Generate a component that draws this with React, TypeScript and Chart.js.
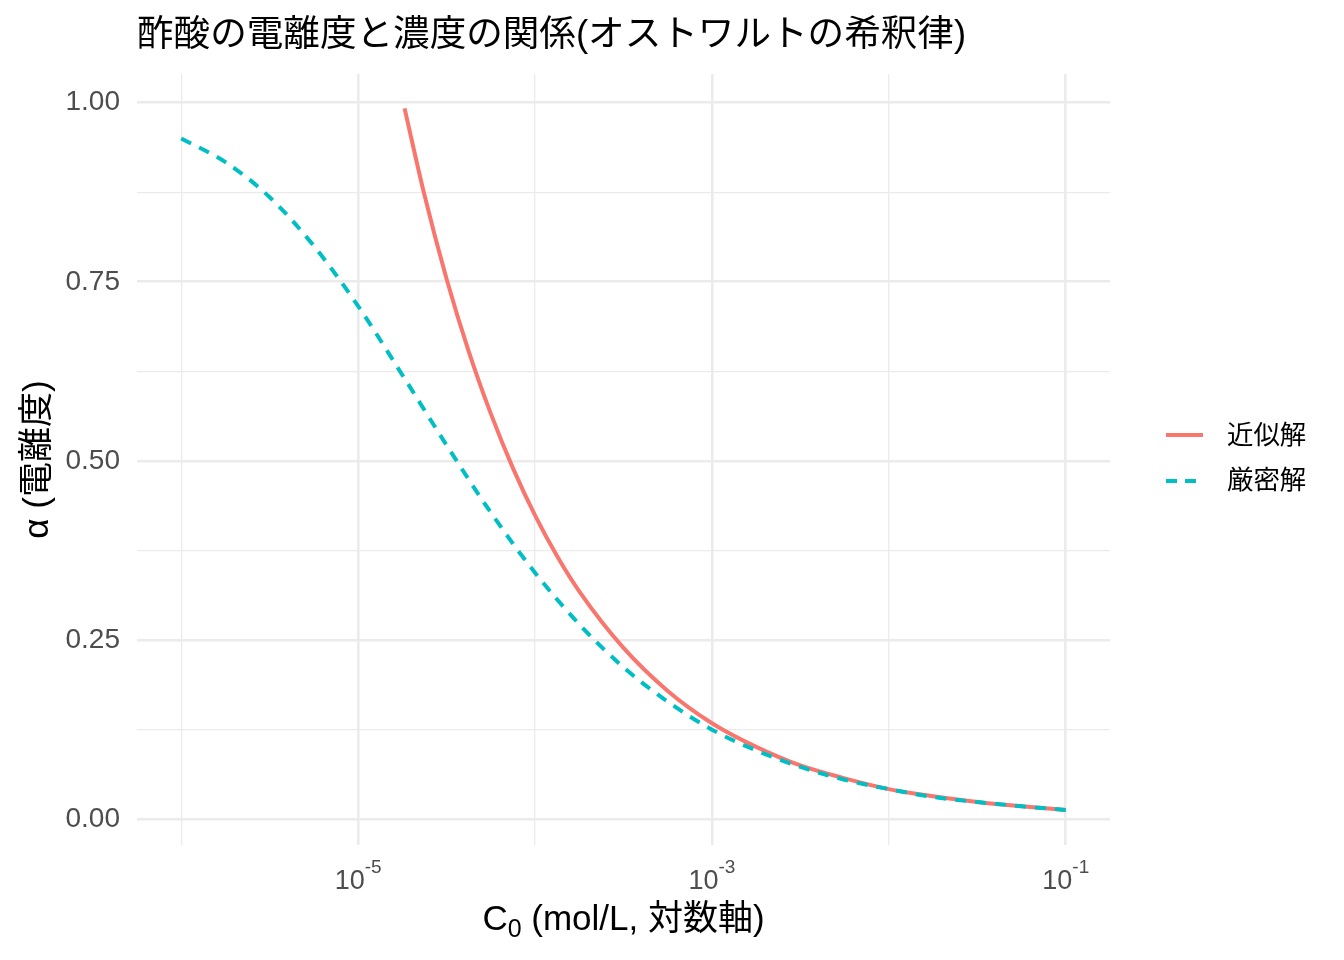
import { useEffect, useRef } from "react";
import { Chart, registerables } from "chart.js";

Chart.register(...registerables);

// 濃度 C0 (mol/L) と電離度 α
const exactConc = [
  1e-6, 1.778e-6, 3.162e-6, 5.623e-6, 1e-5, 1.778e-5, 3.162e-5, 5.623e-5, 1e-4,
  1.778e-4, 3.162e-4, 5.623e-4, 1e-3, 1.778e-3, 3.162e-3, 5.623e-3, 1e-2,
  1.778e-2, 3.162e-2, 5.623e-2, 1e-1,
];
const exactAlpha = [
  0.95, 0.917, 0.868, 0.8, 0.716, 0.62, 0.522, 0.428, 0.344, 0.272, 0.212, 0.164,
  0.125, 0.096, 0.073, 0.055, 0.042, 0.031, 0.024, 0.018, 0.013,
];

const approxConc = [
  1.83e-5, 2.371e-5, 3.162e-5, 4.217e-5, 5.623e-5, 7.499e-5, 1e-4, 1.334e-4,
  1.778e-4, 3.162e-4, 5.623e-4, 1e-3, 1.778e-3, 3.162e-3, 5.623e-3, 1e-2,
  1.778e-2, 3.162e-2, 5.623e-2, 1e-1,
];
const approxAlpha = [
  0.992, 0.871, 0.754, 0.653, 0.566, 0.49, 0.424, 0.367, 0.318, 0.239, 0.179,
  0.134, 0.101, 0.075, 0.057, 0.042, 0.032, 0.024, 0.018, 0.013,
];

const xTicks = [1e-6, 1e-5, 1e-4, 1e-3, 1e-2, 1e-1];
const xLabelExps = [-5, -3, -1];
const yTicks = [0, 0.125, 0.25, 0.375, 0.5, 0.625, 0.75, 0.875, 1];

const seriesNames = ["近似解", "厳密解"];
const RED = "#F8766D";
const CYAN = "#00BFC4";
const FONT = '"Liberation Sans", "Noto Sans CJK JP", sans-serif';

const isMajorY = (v: number) => Math.abs(v * 4 - Math.round(v * 4)) < 1e-9;

const decorations = {
  id: "decorations",
  afterDraw(chart: any) {
    const ctx = chart.ctx as CanvasRenderingContext2D;
    const area = chart.chartArea;
    const xs = chart.scales.x;
    ctx.save();

    // title
    ctx.fillStyle = "#000";
    ctx.textAlign = "left";
    ctx.textBaseline = "middle";
    ctx.font = `36.6px ${FONT}`;
    ctx.fillText("酢酸の電離度と濃度の関係(オストワルトの希釈律)", area.left, 36);

    // x tick labels 10^n
    ctx.fillStyle = "#4D4D4D";
    ctx.textBaseline = "alphabetic";
    xLabelExps.forEach((e) => {
      const px = xs.getPixelForValue(Math.pow(10, e));
      ctx.font = `27px ${FONT}`;
      const w1 = ctx.measureText("10").width;
      ctx.font = `19px ${FONT}`;
      const sup = String(e);
      const w2 = ctx.measureText(sup).width;
      const start = px - (w1 + w2) / 2;
      ctx.font = `27px ${FONT}`;
      ctx.fillText("10", start, 889);
      ctx.font = `19px ${FONT}`;
      ctx.fillText(sup, start + w1, 873);
    });

    // x axis title
    ctx.fillStyle = "#000";
    const big = `35px ${FONT}`;
    const small = `25px ${FONT}`;
    ctx.font = big;
    const wC = ctx.measureText("C").width;
    const rest = " (mol/L, 対数軸)";
    const wRest = ctx.measureText(rest).width;
    ctx.font = small;
    const wSub = ctx.measureText("0").width;
    const cx = (area.left + area.right) / 2;
    const sx = cx - (wC + wSub + wRest) / 2;
    ctx.font = big;
    ctx.fillText("C", sx, 930);
    ctx.font = small;
    ctx.fillText("0", sx + wC, 937);
    ctx.font = big;
    ctx.fillText(rest, sx + wC + wSub, 930);

    // y axis title
    ctx.save();
    ctx.translate(38, (area.top + area.bottom) / 2);
    ctx.rotate(-Math.PI / 2);
    ctx.textAlign = "center";
    ctx.textBaseline = "middle";
    ctx.font = `35px ${FONT}`;
    ctx.fillText("α (電離度)", 0, 0);
    ctx.restore();

    // legend
    ctx.lineWidth = 4;
    ctx.strokeStyle = RED;
    ctx.setLineDash([]);
    ctx.beginPath();
    ctx.moveTo(1166, 435);
    ctx.lineTo(1203, 435);
    ctx.stroke();
    ctx.strokeStyle = CYAN;
    ctx.setLineDash([11, 8]);
    ctx.beginPath();
    ctx.moveTo(1166, 481);
    ctx.lineTo(1204, 481);
    ctx.stroke();
    ctx.setLineDash([]);
    ctx.fillStyle = "#000";
    ctx.textAlign = "left";
    ctx.textBaseline = "middle";
    ctx.font = `26.4px ${FONT}`;
    ctx.fillText(seriesNames[0], 1227, 437);
    ctx.fillText(seriesNames[1], 1227, 482);

    ctx.restore();
  },
};

const App = () => {
  const canvasRef = useRef<HTMLCanvasElement | null>(null);
  const chart = useRef<Chart>();

  useEffect(() => {
    document.body.style.margin = "0";
    if (!canvasRef.current) return;
    const ctx = canvasRef.current.getContext("2d");
    if (!ctx) return;

    chart.current = new Chart(ctx, {
      type: "line",
      data: {
        datasets: [
          {
            label: seriesNames[1],
            data: exactConc.map((c, i) => ({ x: c, y: exactAlpha[i] })),
            borderColor: CYAN,
            borderWidth: 4,
            borderDash: [11, 9],
            pointRadius: 0,
            cubicInterpolationMode: "monotone",
            fill: false,
          },
          {
            label: seriesNames[0],
            data: approxConc.map((c, i) => ({ x: c, y: approxAlpha[i] })),
            borderColor: RED,
            borderWidth: 4,
            pointRadius: 0,
            cubicInterpolationMode: "monotone",
            fill: false,
          },
        ],
      },
      options: {
        responsive: false,
        animation: false,
        layout: { padding: { top: 74, right: 234, left: 0, bottom: 0 } },
        plugins: {
          legend: { display: false },
          title: { display: false },
          tooltip: { enabled: false },
        },
        scales: {
          x: {
            type: "logarithmic",
            min: Math.pow(10, -6.25),
            max: Math.pow(10, -0.75),
            afterBuildTicks: (scale: any) => {
              scale.ticks = xTicks.map((v) => ({ value: v }));
            },
            afterFit: (scale: any) => {
              scale.height = 115;
            },
            ticks: { display: false },
            border: { display: false },
            grid: {
              drawTicks: false,
              color: "#EBEBEB",
              lineWidth: (c: any) => (c.index % 2 === 1 ? 2.6 : 1.3),
            },
          },
          y: {
            type: "linear",
            min: -0.036,
            max: 1.04,
            afterBuildTicks: (scale: any) => {
              scale.ticks = yTicks.map((v) => ({ value: v }));
            },
            afterFit: (scale: any) => {
              scale.width = 137;
            },
            ticks: {
              autoSkip: false,
              padding: 17,
              color: "#4D4D4D",
              font: { family: FONT, size: 28 },
              callback: (v: any) => (isMajorY(Number(v)) ? Number(v).toFixed(2) : ""),
            },
            border: { display: false },
            grid: {
              drawTicks: false,
              color: "#EBEBEB",
              lineWidth: (c: any) =>
                c.tick && isMajorY(c.tick.value) ? 2.6 : 1.3,
            },
          },
        },
      },
      plugins: [decorations],
    });

    return () => {
      chart.current && chart.current.destroy();
      chart.current = undefined;
    };
  }, []);

  return (
    <div style={{ width: 1344, height: 960 }}>
      <canvas ref={canvasRef} width={1344} height={960} />
    </div>
  );
};

export default App;
